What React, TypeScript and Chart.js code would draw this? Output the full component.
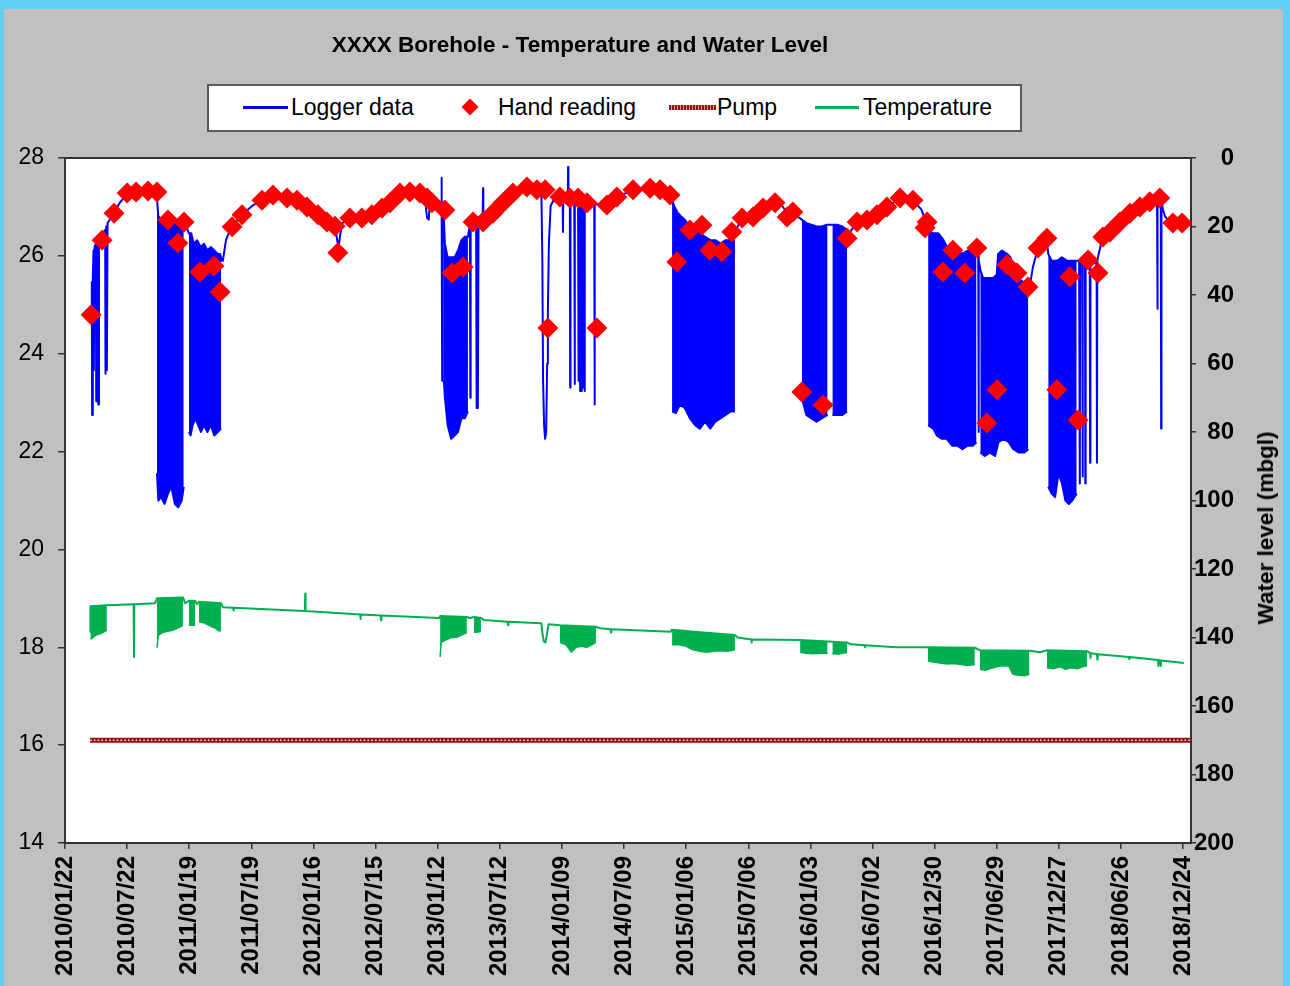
import React, { useEffect, useRef } from "react";
import { Chart, registerables } from "chart.js";

Chart.register(...registerables);
Chart.defaults.font.family = "'Liberation Sans', Arial, Helvetica, sans-serif";

// ---------------- DATA ----------------
// x values are days since 2010/01/22 ; water level in mbgl (right axis) ; temperature in deg C (left axis)
const xTickLabels: string[] = [
  "2010/01/22", "2010/07/22", "2011/01/19", "2011/07/19", "2012/01/16", "2012/07/15",
  "2013/01/12", "2013/07/12", "2014/01/09", "2014/07/09", "2015/01/06", "2015/07/06",
  "2016/01/03", "2016/07/02", "2016/12/30", "2017/06/29", "2017/12/27", "2018/06/26", "2018/12/24",
];
const xAxisMaxDay = 3281;
const tempAxis = { min: 14, max: 28, step: 2 };
const levelAxis = { min: 0, max: 200, step: 20 };

const handReadings: [number, number][] = [
  [76, 45.8], [108, 24.0], [143, 16.1], [181, 10.2], [207, 9.9], [242, 9.6], [268, 9.9], [300, 18.1],
  [329, 24.8], [347, 18.7], [393, 33.3], [434, 31.5], [452, 39.1], [487, 20.1], [516, 16.6], [574, 12.3],
  [606, 10.8], [647, 11.7], [676, 12.3], [705, 14.3], [737, 16.6], [763, 18.7], [787, 19.9], [795, 27.7],
  [830, 17.5], [865, 17.5], [894, 16.6], [924, 14.6], [947, 13.1], [976, 10.2], [1005, 9.9], [1034, 10.2],
  [1055, 11.7], [1069, 13.1], [1107, 15.2], [1128, 33.6], [1160, 31.8], [1189, 18.7], [1218, 18.7],
  [1247, 16.1], [1276, 13.1], [1305, 10.2], [1346, 8.5], [1375, 9.3], [1399, 9.3], [1407, 49.6],
  [1442, 11.4], [1471, 11.7], [1495, 11.7], [1521, 13.1], [1550, 49.6], [1579, 13.7], [1608, 11.4],
  [1655, 9.3], [1705, 8.8], [1734, 9.3], [1763, 10.8], [1783, 30.4], [1821, 21.0], [1856, 19.6],
  [1879, 26.9], [1914, 27.4], [1943, 21.6], [1973, 17.5], [2005, 17.2], [2034, 14.6], [2069, 13.1],
  [2104, 17.2], [2121, 15.8], [2147, 68.3], [2209, 72.1], [2279, 23.4], [2308, 18.7], [2337, 18.1],
  [2366, 16.6], [2395, 14.3], [2433, 11.7], [2471, 12.3], [2506, 20.4], [2512, 18.7], [2558, 33.3],
  [2587, 26.9], [2622, 33.6], [2657, 26.3], [2686, 77.4], [2716, 67.7], [2745, 31.2], [2774, 33.6],
  [2806, 37.7], [2835, 26.3], [2861, 23.4], [2890, 67.7], [2928, 34.7], [2952, 76.5], [2981, 29.8],
  [3010, 33.6], [3024, 23.1], [3045, 21.6], [3074, 18.7], [3103, 16.1], [3132, 14.3], [3161, 12.8],
  [3190, 11.7], [3228, 19.0], [3255, 19.0],
];

const loggerLevel: [number, number][] = [
  [78, 36], [79, 75], [81, 35], [83, 27], [84, 62], [86, 26], [90, 25], [91, 71], [93, 25], [96, 24],
  [97, 72], [99, 24], [108, 22], [117, 21], [118, 63], [120, 20], [122, 62], [124, 19], [143, 16],
  [160, 13], [181, 10.5], [204, 10], [242, 9.8], [266, 10],
  [268, 12], [272, 17], [280, 18], [290, 19], [300, 18], [310, 19], [320, 19], [330, 20], [340, 18],
  [346, 17], [352, 18], [357, 21],
  [361, 22], [368, 22], [375, 25], [385, 24], [395, 26], [405, 25], [415, 27], [425, 26], [435, 27],
  [445, 28], [452, 28], [457, 30],
  [460, 30], [469, 24], [481, 21], [487, 20], [516, 16.6], [545, 14], [574, 12.3], [606, 10.8],
  [647, 11.5], [676, 12.3], [705, 14.3], [737, 16.6], [763, 18.7], [787, 20], [793, 24], [797, 26],
  [801, 23], [808, 19], [830, 17.5], [865, 17.5], [894, 16.5], [924, 14.6], [947, 13], [976, 10.2],
  [1005, 9.9], [1034, 10.2], [1049, 12], [1055, 17.5], [1060, 18], [1063, 13], [1069, 13], [1087, 15],
  [1096, 15], [1097, 5.8], [1098, 15], [1099, 65], [1101, 16], [1104, 18],
  [1107, 25], [1115, 29], [1125, 29], [1135, 29], [1145, 27], [1155, 24], [1165, 23], [1174, 23],
  [1177, 21], [1180, 20], [1181, 70], [1182, 20], [1189, 19.5], [1198, 19.5], [1199, 73], [1200, 19.5],
  [1203, 73], [1205, 19.5], [1209, 19], [1217, 18], [1218, 8.8], [1219, 17.5], [1247, 16.1],
  [1276, 13.1], [1305, 10.2], [1346, 8.5], [1375, 9.2], [1388, 9.5], [1391, 30], [1393, 65],
  [1396, 78], [1399, 82], [1402, 80], [1405, 60], [1407, 45], [1410, 25], [1415, 14], [1425, 12],
  [1442, 11.4], [1450, 11.5], [1451, 21.6], [1452, 11.5], [1465, 11.5], [1466, 2.6], [1467, 11.6],
  [1471, 12], [1472, 67], [1473, 12.5], [1484, 13], [1485, 66], [1486, 13], [1495, 13], [1496, 65],
  [1497, 13], [1500, 13], [1501, 68], [1502, 13], [1505, 13], [1506, 68], [1507, 13], [1509, 13],
  [1510, 67], [1511, 13], [1513, 13], [1514, 68], [1515, 13], [1521, 13.1], [1542, 13.5], [1543, 72],
  [1544, 13.5], [1559, 13.5], [1579, 13.7], [1608, 11.4], [1655, 9.3], [1705, 8.8], [1734, 9.3],
  [1763, 10.8],
  [1769, 12], [1775, 14], [1785, 16], [1795, 17], [1806, 18], [1821, 20], [1836, 21], [1850, 22],
  [1865, 23], [1880, 24], [1895, 24], [1910, 25], [1925, 24], [1940, 24], [1952, 23],
  [1960, 20], [1973, 17.5], [2005, 17.2], [2034, 14.6], [2069, 13.1], [2090, 14], [2104, 16],
  [2121, 15.8], [2140, 17.5],
  [2147, 18], [2160, 19], [2175, 19.5], [2190, 20], [2205, 20], [2220, 19.5], [2235, 19.5],
  [2250, 19.5], [2265, 20], [2279, 21],
  [2285, 22], [2308, 18.7], [2337, 18.1], [2366, 16.6], [2395, 14.3], [2433, 11.7], [2471, 12.3],
  [2495, 15], [2510, 19],
  [2515, 21], [2530, 22], [2545, 22], [2560, 24], [2570, 26], [2585, 27], [2600, 27], [2615, 28],
  [2630, 27], [2645, 28], [2655, 28], [2661, 28], [2662, 80], [2663, 30], [2668, 33], [2675, 35],
  [2690, 35], [2705, 35], [2715, 34], [2719, 28], [2730, 27], [2745, 28], [2755, 29], [2763, 33],
  [2775, 35], [2790, 36], [2800, 37], [2807, 37],
  [2812, 37], [2820, 32], [2835, 26.3], [2850, 24], [2861, 24],
  [2865, 28], [2875, 30], [2890, 30], [2905, 29], [2920, 30], [2935, 30], [2948, 30],
  [2955, 30], [2957, 95], [2958, 30], [2964, 30], [2965, 93], [2966, 30], [2972, 30], [2973, 95],
  [2974, 30], [2986, 30], [2987, 89], [2988, 30], [3006, 31], [3007, 89], [3008, 30], [3012, 28],
  [3024, 23], [3045, 21.6], [3074, 18.7], [3103, 16.1], [3132, 14.3], [3161, 12.8], [3180, 11.5],
  [3182, 11.5], [3183, 44], [3184, 11.5], [3190, 11], [3193, 11], [3194, 79], [3195, 12], [3199, 15],
  [3205, 17], [3220, 19], [3240, 19], [3260, 19],
];

// deepest water level reached during each dense pumping period (lower envelope of the logger trace)
const loggerDrawdown: [number, number][][] = [
  [[268, 92], [272, 100], [280, 99], [290, 101], [300, 98], [310, 96], [320, 101], [330, 102], [340, 100], [346, 96]],
  [[361, 80], [366, 81], [372, 78], [380, 76], [388, 78], [396, 80], [405, 78], [415, 80], [425, 78], [435, 81], [445, 80], [455, 79]],
  [[1104, 65], [1107, 70], [1115, 78], [1125, 82], [1135, 81], [1145, 80], [1155, 76], [1165, 76], [1174, 74]],
  [[1769, 74], [1780, 74.5], [1792, 72], [1806, 73], [1821, 76], [1836, 78], [1850, 79], [1865, 77], [1880, 79], [1895, 77], [1910, 76], [1925, 75], [1940, 74], [1952, 74]],
  [[2147, 70], [2160, 75], [2175, 76], [2190, 77], [2205, 76], [2222, 75]],
  [[2236, 75], [2250, 75], [2265, 75], [2279, 74]],
  [[2515, 78], [2530, 79], [2540, 81], [2555, 82], [2569, 82], [2585, 84], [2600, 84], [2615, 85], [2630, 84], [2645, 84], [2656, 83]],
  [[2667, 86], [2680, 87], [2695, 86], [2710, 87], [2720, 83], [2735, 82], [2750, 83], [2763, 85], [2780, 86], [2795, 86], [2807, 85]],
  [[2865, 96], [2875, 98], [2885, 99], [2895, 92], [2905, 95], [2915, 100], [2925, 101], [2935, 100], [2948, 98]],
];

const pumpLevel: [number, number][] = [[73, 170], [3281, 170]];

const temperature: [number, number][] = [
  [73, 18.3], [74, 18.84], [122, 18.86], [200, 18.88], [201, 17.8], [202, 18.88], [262, 18.9],
  [268, 19.0], [344, 19.02], [350, 18.9], [361, 18.95], [379, 18.95], [385, 18.88], [390, 18.93],
  [455, 18.9], [460, 18.82], [490, 18.81], [491, 18.75], [492, 18.81], [699, 18.74], [700, 19.1],
  [701, 18.74], [860, 18.67], [861, 18.58], [862, 18.67], [920, 18.65], [921, 18.55], [922, 18.65],
  [1090, 18.6], [1093, 18.64], [1171, 18.62], [1180, 18.6], [1192, 18.62], [1212, 18.6], [1220, 18.56],
  [1290, 18.52], [1291, 18.45], [1292, 18.52], [1388, 18.49], [1391, 18.3], [1395, 18.12], [1400, 18.1],
  [1405, 18.3], [1409, 18.47], [1442, 18.45], [1547, 18.42], [1560, 18.39], [1590, 18.37], [1591, 18.3],
  [1592, 18.37], [1765, 18.32], [1769, 18.36], [1860, 18.3], [1952, 18.25], [1960, 18.2], [2000, 18.16],
  [2001, 18.1], [2002, 18.16], [2142, 18.15], [2279, 18.1], [2290, 18.06], [2330, 18.04], [2331, 18.0],
  [2332, 18.04], [2420, 18.0], [2514, 18.0], [2651, 17.99], [2666, 17.94], [2812, 17.93], [2841, 17.9],
  [2861, 17.94], [2978, 17.92], [2987, 17.88], [2988, 17.78], [2989, 17.88], [3007, 17.86], [3008, 17.75],
  [3009, 17.86], [3100, 17.8], [3101, 17.76], [3102, 17.8], [3185, 17.74], [3186, 17.62], [3188, 17.74],
  [3192, 17.73], [3193, 17.62], [3194, 17.73], [3260, 17.68],
];

// lowest temperature reached during each dense pumping period
const temperatureDips: [number, number][][] = [
  [[74, 18.17], [82, 18.2], [90, 18.25], [100, 18.27], [110, 18.3], [122, 18.35]],
  [[268, 17.99], [272, 18.25], [285, 18.3], [300, 18.33], [315, 18.35], [330, 18.4], [344, 18.45]],
  [[361, 18.45], [379, 18.45]],
  [[390, 18.52], [405, 18.5], [420, 18.45], [435, 18.4], [450, 18.33], [455, 18.35]],
  [[1093, 17.8], [1096, 18.1], [1110, 18.15], [1125, 18.2], [1140, 18.2], [1155, 18.25], [1171, 18.3]],
  [[1192, 18.3], [1212, 18.32]],
  [[1442, 18.1], [1460, 18.05], [1475, 17.9], [1490, 18.0], [1505, 18.02], [1520, 18.0], [1535, 18.05], [1547, 18.1]],
  [[1769, 18.05], [1790, 18.05], [1810, 18.02], [1830, 17.95], [1850, 17.92], [1870, 17.9], [1890, 17.92], [1910, 17.93], [1930, 17.92], [1952, 17.95]],
  [[2142, 17.9], [2160, 17.88], [2180, 17.87], [2200, 17.88], [2222, 17.88]],
  [[2236, 17.87], [2255, 17.86], [2279, 17.9]],
  [[2514, 17.72], [2530, 17.7], [2550, 17.68], [2570, 17.66], [2590, 17.67], [2610, 17.65], [2630, 17.63], [2651, 17.65]],
  [[2666, 17.55], [2680, 17.53], [2700, 17.57], [2715, 17.6], [2730, 17.62], [2750, 17.62], [2762, 17.45], [2780, 17.43], [2795, 17.42], [2810, 17.45]],
  [[2861, 17.58], [2880, 17.56], [2900, 17.6], [2915, 17.55], [2930, 17.58], [2950, 17.56], [2965, 17.6], [2978, 17.62]],
];

// ---------------- HELPERS ----------------
const DAY_MS = 86400000;
const baseMs = Date.UTC(2010, 0, 22);
const dayOf = (s: string) => {
  const [y, m, d] = s.split("/").map(Number);
  return Math.round((Date.UTC(y, m - 1, d) - baseMs) / DAY_MS);
};
const xTickDays = xTickLabels.map(dayOf);

const pts = (a: [number, number][]) => a.map(([x, y]) => ({ x, y }));
const segPts = (s: [number, number][][]) => {
  const out: { x: number; y: number | null }[] = [];
  s.forEach((seg, i) => {
    if (i > 0) {
      const prev = s[i - 1];
      out.push({ x: (prev[prev.length - 1][0] + seg[0][0]) / 2, y: null });
    }
    seg.forEach(([x, y]) => out.push({ x, y }));
  });
  return out;
};

const BLUE = "#0000ff";
const RED = "#ff0000";
const GREEN = "#00b050";
const PUMP = "#951010";
const AXIS = "#333333";

const plotFrame = {
  id: "plotFrame",
  beforeDraw(chart: any) {
    const { ctx, chartArea: a } = chart;
    ctx.save();
    ctx.fillStyle = "#ffffff";
    ctx.fillRect(a.left, a.top, a.right - a.left, a.bottom - a.top);
    ctx.restore();
  },
  beforeDatasetsDraw(chart: any) {
    const { ctx, chartArea: a } = chart;
    ctx.save();
    ctx.strokeStyle = AXIS;
    ctx.lineWidth = 2;
    ctx.strokeRect(a.left, a.top, a.right - a.left, a.bottom - a.top);
    ctx.restore();
  },
};

export default function App() {
  const ref = useRef<HTMLCanvasElement>(null);

  useEffect(() => {
    const canvas = ref.current;
    if (!canvas) return;
    const lineBase = { pointRadius: 0, tension: 0, borderJoinStyle: "round", spanGaps: false };
    const chart = new Chart(canvas, {
      type: "line",
      data: {
        datasets: [
          {
            label: "Hand reading",
            data: pts(handReadings),
            yAxisID: "yW",
            showLine: false,
            pointStyle: "rectRot",
            pointRadius: 10.5,
            backgroundColor: RED,
            borderColor: RED,
            borderWidth: 0,
            order: 0,
          },
          {
            label: "Logger data",
            data: pts(loggerLevel),
            yAxisID: "yW",
            borderColor: BLUE,
            borderWidth: 2,
            fill: false,
            order: 1,
            ...lineBase,
          },
          {
            label: "Logger drawdown",
            data: segPts(loggerDrawdown),
            yAxisID: "yW",
            borderColor: BLUE,
            backgroundColor: BLUE,
            borderWidth: 2,
            fill: { target: 1 },
            order: 2,
            ...lineBase,
          },
          {
            label: "Pump",
            data: pts(pumpLevel),
            yAxisID: "yW",
            borderColor: PUMP,
            borderWidth: 5,
            fill: false,
            order: 6,
            ...lineBase,
          },
          {
            label: "Pump dots",
            data: pts(pumpLevel),
            yAxisID: "yW",
            borderColor: "rgba(255,225,225,0.95)",
            borderWidth: 1.4,
            borderDash: [1.6, 2.2],
            fill: false,
            order: 5,
            ...lineBase,
          },
          {
            label: "Temperature",
            data: pts(temperature),
            yAxisID: "yT",
            borderColor: GREEN,
            borderWidth: 2,
            fill: false,
            order: 3,
            ...lineBase,
          },
          {
            label: "Temperature dips",
            data: segPts(temperatureDips),
            yAxisID: "yT",
            borderColor: GREEN,
            backgroundColor: GREEN,
            borderWidth: 1.5,
            fill: { target: 5 },
            order: 4,
            ...lineBase,
          },
        ] as any,
      },
      options: {
        responsive: false,
        animation: false,
        events: [],
        layout: { padding: { top: 149, left: 0, right: 49, bottom: 0 } },
        plugins: {
          legend: { display: false },
          tooltip: { enabled: false },
          title: { display: false },
        },
        scales: {
          x: {
            type: "linear",
            position: "bottom",
            min: 0,
            max: xAxisMaxDay,
            afterBuildTicks: (axis: any) => {
              axis.ticks = xTickDays.map((v) => ({ value: v }));
            },
            afterFit: (axis: any) => {
              axis.height = 143;
            },
            ticks: {
              autoSkip: false,
              minRotation: 90,
              maxRotation: 90,
              padding: 7,
              color: "#000",
              font: { size: 24, weight: "bold" },
              callback: (_v: any, i: number) => xTickLabels[i],
            },
            grid: { display: true, drawOnChartArea: false, drawTicks: true, tickLength: 6, color: AXIS, lineWidth: 1.5 },
            border: { display: false },
          },
          yT: {
            type: "linear",
            position: "left",
            min: tempAxis.min,
            max: tempAxis.max,
            afterFit: (axis: any) => {
              axis.width = 61;
            },
            ticks: { stepSize: tempAxis.step, padding: 14, color: "#000", font: { size: 23 } },
            grid: { display: true, drawOnChartArea: false, drawTicks: true, tickLength: 7, color: AXIS, lineWidth: 1.5 },
            border: { display: false },
          },
          yW: {
            type: "linear",
            position: "right",
            reverse: true,
            min: levelAxis.min,
            max: levelAxis.max,
            afterFit: (axis: any) => {
              axis.width = 43;
            },
            ticks: { stepSize: levelAxis.step, padding: 0, crossAlign: "far", color: "#000", font: { size: 24, weight: "bold" } },
            grid: { display: true, drawOnChartArea: false, drawTicks: true, tickLength: 5, color: AXIS, lineWidth: 1.5 },
            border: { display: false },
          },
        },
      } as any,
      plugins: [plotFrame as any],
    });
    return () => chart.destroy();
  }, []);

  const font = "'Liberation Sans', Arial, Helvetica, sans-serif";
  const legendText: React.CSSProperties = {
    position: "absolute",
    top: 96,
    fontSize: 23,
    lineHeight: "23px",
    fontFamily: font,
    color: "#000",
    whiteSpace: "nowrap",
  };

  return (
    <div
      style={{
        position: "fixed",
        left: 0,
        top: 0,
        width: 1290,
        height: 986,
        overflow: "hidden",
        background: "#63cdf5",
        fontFamily: font,
      }}
    >
      <div style={{ position: "absolute", left: 4, top: 9, width: 1279, height: 977, background: "#c0c0c0" }}>
        <canvas ref={ref} width={1279} height={977} style={{ display: "block", width: 1279, height: 977 }} />
      </div>

      <div
        style={{
          position: "absolute",
          left: 280,
          top: 34,
          width: 600,
          textAlign: "center",
          fontSize: 22.5,
          lineHeight: "22px",
          fontWeight: "bold",
          color: "#000",
          whiteSpace: "nowrap",
        }}
      >
        XXXX Borehole - Temperature and Water Level
      </div>

      <div
        style={{
          position: "absolute",
          left: 207,
          top: 84,
          width: 815,
          height: 48,
          boxSizing: "border-box",
          border: "2px solid #5a5a5a",
          background: "#fff",
        }}
      />
      <div style={{ position: "absolute", left: 243, top: 106, width: 45, height: 2.5, background: BLUE }} />
      <div style={{ ...legendText, left: 291 }}>Logger data</div>
      <div
        style={{
          position: "absolute",
          left: 464,
          top: 101,
          width: 12,
          height: 12,
          background: RED,
          transform: "rotate(45deg)",
        }}
      />
      <div style={{ ...legendText, left: 498 }}>Hand reading</div>
      <div
        style={{
          position: "absolute",
          left: 669,
          top: 105,
          width: 47,
          height: 5,
          background: `repeating-linear-gradient(90deg, ${PUMP} 0px, ${PUMP} 2px, #d99a9a 2px, #d99a9a 3px)`,
        }}
      />
      <div style={{ ...legendText, left: 717 }}>Pump</div>
      <div style={{ position: "absolute", left: 815, top: 106, width: 44, height: 2.5, background: GREEN }} />
      <div style={{ ...legendText, left: 863 }}>Temperature</div>

      <div
        style={{
          position: "absolute",
          left: 1266,
          top: 528,
          transform: "translate(-50%, -50%) rotate(-90deg)",
          fontSize: 22.5,
          lineHeight: "22px",
          fontWeight: "bold",
          color: "#000",
          whiteSpace: "nowrap",
        }}
      >
        Water level (mbgl)
      </div>
    </div>
  );
}
